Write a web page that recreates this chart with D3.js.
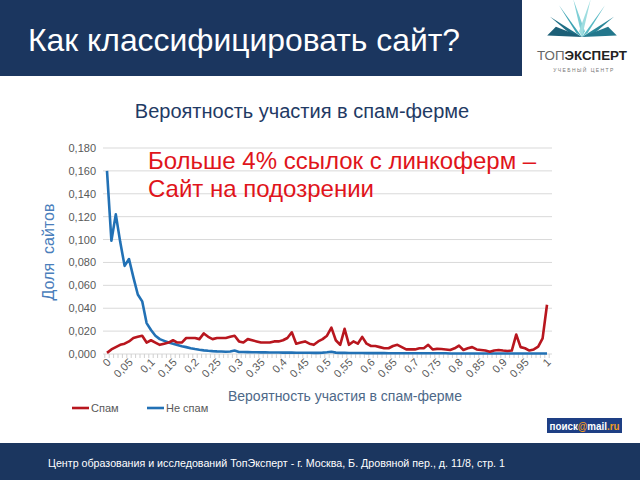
<!DOCTYPE html>
<html><head><meta charset="utf-8">
<script src="https://cdn.jsdelivr.net/npm/d3@7"></script>
<style>body{margin:0;background:#fff}svg{display:block}</style>
</head><body>
<script>
// ---- data ----
const categories = d3.range(0, 101).map(i => i / 100);
const spam = [0.001,0.004,0.006,0.008,0.009,0.011,0.014,0.015,0.016,0.010,
  0.012,0.010,0.008,0.009,0.010,0.012,0.010,0.010,0.014,0.014,
  0.014,0.013,0.018,0.015,0.013,0.014,0.014,0.014,0.015,0.016,
  0.011,0.010,0.013,0.012,0.011,0.010,0.010,0.010,0.011,0.011,
  0.012,0.014,0.019,0.009,0.010,0.011,0.009,0.008,0.011,0.013,
  0.016,0.023,0.012,0.008,0.022,0.008,0.011,0.009,0.015,0.009,
  0.007,0.007,0.006,0.005,0.005,0.007,0.008,0.006,0.004,0.004,
  0.004,0.005,0.005,0.008,0.004,0.0045,0.0044,0.004,0.0035,0.005,
  0.0073,0.0035,0.005,0.006,0.004,0.0035,0.003,0.002,0.003,0.0035,
  0.003,0.0026,0.003,0.017,0.006,0.005,0.003,0.004,0.0064,0.0137,
  0.043];
const notSpam = [0.160,0.099,0.122,0.098,0.077,0.083,0.067,0.052,0.046,0.027,
  0.021,0.016,0.013,0.0115,0.010,0.009,0.0078,0.0068,0.006,0.005,
  0.0043,0.0037,0.0032,0.0028,0.0025,0.0023,0.0022,0.002,0.0022,0.003,
  0.0018,0.0017,0.0016,0.0015,0.0015,0.0014,0.0014,0.0013,0.0013,0.0013,
  0.0012,0.0012,0.0012,0.0011,0.0011,0.0011,0.0011,0.0010,0.0010,0.0012,
  0.0015,0.002,0.0012,0.0010,0.0010,0.0009,0.0009,0.0009,0.0009,0.0008,
  0.0008,0.0008,0.0008,0.0008,0.0007,0.0007,0.0007,0.0007,0.0007,0.0007,
  0.0006,0.0006,0.0006,0.0006,0.0006,0.0006,0.0006,0.0006,0.0005,0.0005,
  0.0005,0.0005,0.0005,0.0005,0.0005,0.0005,0.0005,0.0005,0.0005,0.0005,
  0.0005,0.0005,0.0005,0.0005,0.0005,0.0005,0.0005,0.0005,0.0005,0.0005,
  0.0005];
const yTicks = [0,0.02,0.04,0.06,0.08,0.10,0.12,0.14,0.16,0.18];
const xLabelValues = d3.range(0, 101, 5).map(i => i / 100);
const seriesNames = ["Спам", "Не спам"];

const W = 640, H = 480;
const svg = d3.select("body").append("svg").attr("width", W).attr("height", H);
const font = "Liberation Sans, Arial, sans-serif";

// header
svg.append("rect").attr("x",0).attr("y",0).attr("width",522).attr("height",76).attr("fill","#1b365f");
svg.append("text").attr("x",28).attr("y",51).attr("fill","#fff")
  .attr("font-family",font).attr("font-size",32)
  .attr("textLength",432).attr("lengthAdjust","spacingAndGlyphs")
  .text("Как классифицировать сайт?");

// logo
const logo = svg.append("g").attr("transform","translate(582,37) scale(1.45)");
const petals = [
  {pts:"0,0 -22,-14 -8,-2", c:"#1f6f86"},
  {pts:"0,0 -16,-22 -4,-3", c:"#3ba3b3"},
  {pts:"0,0 -6,-26 2,-4", c:"#7fcfd6"},
  {pts:"0,0 6,-26 -2,-4", c:"#9edde0"},
  {pts:"0,0 16,-22 4,-3", c:"#57b9c4"},
  {pts:"0,0 22,-14 8,-2", c:"#2a8799"},
  {pts:"-24,-1 0,0 -18,-7", c:"#1c5f77"},
  {pts:"24,-1 0,0 18,-7", c:"#23778c"}
];
logo.selectAll("polygon").data(petals).join("polygon").attr("points",d=>d.pts).attr("fill",d=>d.c);
svg.append("text").attr("x",582).attr("y",60).attr("text-anchor","middle")
  .attr("font-family",font).attr("font-size",13).attr("fill","#333")
  .attr("textLength",90).attr("lengthAdjust","spacingAndGlyphs")
  .html('<tspan font-weight="normal" fill="#666">ТОП</tspan><tspan font-weight="bold" fill="#222">ЭКСПЕРТ</tspan>');
svg.append("text").attr("x",584).attr("y",72).attr("text-anchor","middle")
  .attr("font-family",font).attr("font-size",5).attr("letter-spacing",1.4).attr("fill","#777")
  .text("УЧЕБНЫЙ ЦЕНТР");

// chart
const x = d3.scalePoint().domain(categories).range([107, 547]);
const y = d3.scaleLinear().domain([0, 0.18]).range([354, 148]);
const gridL = 103, gridR = 552;

svg.append("text").attr("x",302).attr("y",118).attr("text-anchor","middle")
  .attr("font-family",font).attr("font-size",20).attr("fill","#1f3a64")
  .text("Вероятность участия в спам-ферме");

// gridlines
svg.append("g").selectAll("line").data(yTicks.filter(d=>d>0)).join("line")
  .attr("x1",gridL).attr("x2",gridR).attr("y1",d=>y(d)).attr("y2",d=>y(d))
  .attr("stroke","#d9d9d9").attr("stroke-width",1);

// y axis
const yAxis = d3.axisLeft(y).tickValues(yTicks).tickSize(0).tickPadding(7)
  .tickFormat(d => d3.format(".3f")(d).replace(".", ","));
const gy = svg.append("g").attr("transform",`translate(${gridL},0)`).call(yAxis);
gy.select(".domain").remove();
gy.selectAll("text").attr("font-family",font).attr("font-size",11).attr("fill","#595959");

// x axis baseline + minor ticks
svg.append("line").attr("x1",gridL).attr("x2",gridR).attr("y1",y(0)).attr("y2",y(0)).attr("stroke","#d9d9d9");
const step = x.step();
svg.append("g").selectAll("line").data(categories.concat([1.01])).join("line")
  .attr("x1",(d,i)=> (i<categories.length? x(d): x(1)+step) - step/2)
  .attr("x2",(d,i)=> (i<categories.length? x(d): x(1)+step) - step/2)
  .attr("y1",y(0)).attr("y2",y(0)+4).attr("stroke","#d0d0d0");

const xAxis = d3.axisBottom(x).tickValues(xLabelValues).tickSize(0).tickPadding(0)
  .tickFormat(d => d3.format("~g")(d).replace(".", ","));
const gx = svg.append("g").attr("transform",`translate(0,${y(0)})`).call(xAxis);
gx.select(".domain").remove();
gx.selectAll("text").attr("font-family",font).attr("font-size",11).attr("fill","#595959")
  .attr("text-anchor","end").attr("dy",0).attr("transform","translate(4,9) rotate(-45)");

// lines
const line = d3.line().x((d,i)=>x(categories[i])).y(d=>y(d));
svg.append("path").datum(notSpam).attr("d",line).attr("fill","none")
  .attr("stroke","#2271b5").attr("stroke-width",2.6).attr("stroke-linejoin","round");
svg.append("path").datum(spam).attr("d",line).attr("fill","none")
  .attr("stroke","#b8161e").attr("stroke-width",2.6).attr("stroke-linejoin","round");

// annotation
const ann = svg.append("text").attr("font-family",font).attr("font-size",24).attr("fill","#e0141b");
ann.append("tspan").attr("x",148).attr("y",169).text("Больше 4% ссылок с линкоферм –");
ann.append("tspan").attr("x",148).attr("y",197).text("Сайт на подозрении");

// axis titles
svg.append("text").attr("transform","translate(54,252) rotate(-90)").attr("text-anchor","middle")
  .attr("font-family",font).attr("font-size",16).attr("fill","#4a7ebb")
  .attr("xml:space","preserve").text("Доля  сайтов");
svg.append("text").attr("x",345).attr("y",401).attr("text-anchor","middle")
  .attr("font-family",font).attr("font-size",14).attr("fill","#4d6888")
  .text("Вероятность участия в спам-ферме");

// legend
const legend = [{name:seriesNames[0], c:"#b8161e", x:72},{name:seriesNames[1], c:"#2271b5", x:147}];
const lg = svg.append("g").selectAll("g").data(legend).join("g");
lg.append("line").attr("x1",d=>d.x).attr("x2",d=>d.x+17).attr("y1",408).attr("y2",408)
  .attr("stroke",d=>d.c).attr("stroke-width",2.6);
lg.append("text").attr("x",d=>d.x+19).attr("y",412).attr("font-family",font).attr("font-size",11)
  .attr("fill","#595959").text(d=>d.name);

// poisk mail.ru badge
svg.append("rect").attr("x",547).attr("y",418).attr("width",75).attr("height",15).attr("fill","#1e3f84");
const pm = svg.append("text").attr("x",584.5).attr("y",429.5).attr("text-anchor","middle")
  .attr("font-family",font).attr("font-size",10).attr("font-weight","bold")
  .attr("textLength",70).attr("lengthAdjust","spacingAndGlyphs");
pm.append("tspan").attr("fill","#fff").text("поиск");
pm.append("tspan").attr("fill","#f39b1c").text("@");
pm.append("tspan").attr("fill","#fff").text("mail");
pm.append("tspan").attr("fill","#f39b1c").text(".ru");

// footer
svg.append("rect").attr("x",0).attr("y",443).attr("width",W).attr("height",37).attr("fill","#1b365f");
svg.append("text").attr("x",48).attr("y",467).attr("fill","#fff")
  .attr("font-family",font).attr("font-size",11)
  .attr("textLength",457).attr("lengthAdjust","spacingAndGlyphs")
  .text("Центр образования и исследований ТопЭксперт - г. Москва, Б. Дровяной пер., д. 11/8, стр. 1");
</script>
</body></html>
